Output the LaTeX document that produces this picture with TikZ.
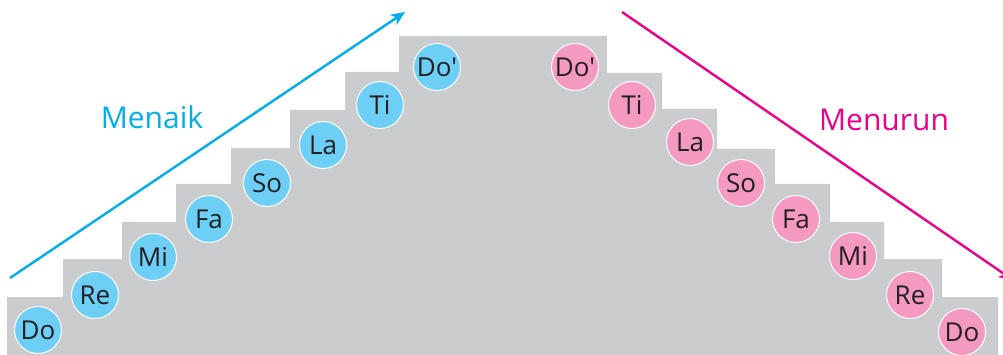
\documentclass[tikz,border=0pt]{standalone}
\usepackage{fontspec}
\setmainfont{Open Sans}[Ligatures=TeXOff]
\usetikzlibrary{arrows.meta}
\definecolor{stair}{HTML}{CBCCCE}
\definecolor{bluec}{HTML}{6DCFF6}
\definecolor{pinkc}{HTML}{F49AC1}
\definecolor{bluea}{HTML}{00AEEF}
\definecolor{pinka}{HTML}{EC008C}
\definecolor{ink}{HTML}{231F20}
\tikzset{
  note/.style={circle, draw=white, line width=1pt, minimum size=47pt, inner sep=0pt,
    text=ink, font=\fontsize{26}{26}\selectfont},
  upnote/.style={note, fill=bluec},
  downnote/.style={note, fill=pinkc},
  dirarrow/.style={line width=2.4pt, -{Stealth[length=14pt,width=12pt,inset=4pt]}},
  dirlabel/.style={font=\fontsize{30}{30}\selectfont, inner sep=0pt}
}
\begin{document}
\begin{tikzpicture}[x=1pt,y=-1pt]
\clip (0,0) rectangle (1003,355);
\fill[white] (0,0) rectangle (1003,355);
\fill[stair] (7,355) -- (7,297) -- (63,297) -- (63,259) -- (122,259) -- (122,222)
  -- (176,222) -- (176,184) -- (231,184) -- (231,148) -- (290,148) -- (290,110)
  -- (345,110) -- (345,72) -- (399,72) -- (399,36) -- (607,36) -- (607,73)
  -- (662,73) -- (662,109) -- (717,109) -- (717,149) -- (775,149) -- (775,184)
  -- (830,184) -- (830,222) -- (884,222) -- (884,259) -- (942,259) -- (942,297)
  -- (998,297) -- (998,355) -- cycle;
% ascending
\node[upnote] (u1) at (38,330) {Do};
\node[upnote] (u2) at (95,295) {Re};
\node[upnote] (u3) at (153,257) {Mi};
\node[upnote] (u4) at (209,219) {Fa};
\node[upnote] (u5) at (267,183) {So};
\node[upnote] (u6) at (323,145) {La};
\node[upnote] (u7) at (380,105) {Ti};
\node[upnote] (u8) at (437,67) {Do'};
% descending
\node[downnote] (d8) at (575,67) {Do'};
\node[downnote] (d7) at (632,105) {Ti};
\node[downnote] (d6) at (690,142) {La};
\node[downnote] (d5) at (741,183) {So};
\node[downnote] (d4) at (796,219) {Fa};
\node[downnote] (d3) at (853,256) {Mi};
\node[downnote] (d2) at (910,295) {Re};
\node[downnote] (d1) at (962,332) {Do};
% arrows
\coordinate (ua) at (10,278);
\coordinate (ub) at (405,12);
\coordinate (da) at (622,12);
\coordinate (db) at (1013,280);
\draw[dirarrow, bluea] (ua) -- (ub);
\draw[dirarrow, pinka] (da) -- (db);
\node[dirlabel, text=bluea] (menaik) at (152,117) {Menaik};
\node[dirlabel, text=pinka] (menurun) at (884,120) {Menurun};
\end{tikzpicture}
\end{document}
